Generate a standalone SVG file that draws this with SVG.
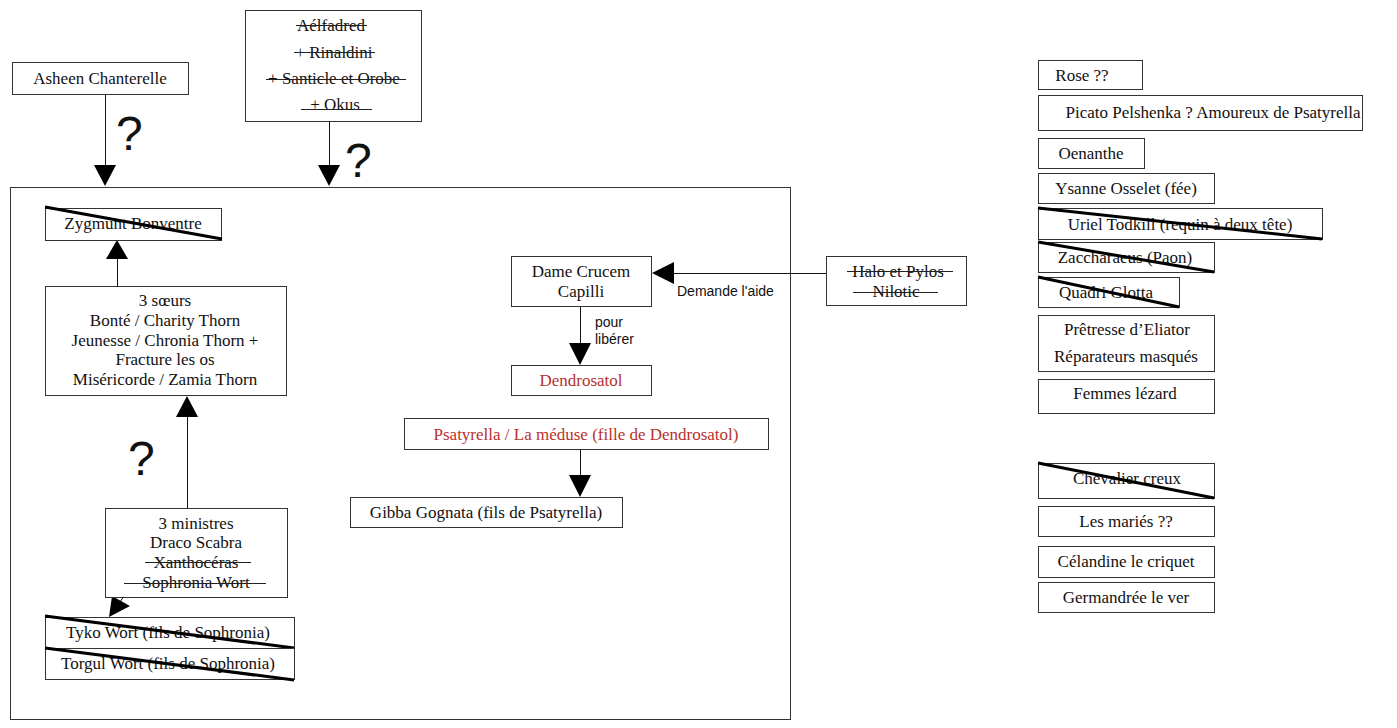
<svg xmlns="http://www.w3.org/2000/svg" width="1397" height="728" viewBox="0 0 1397 728">
<defs>
<style>
.b{fill:#fff;stroke:#333;stroke-width:1}
.t{font-family:"Liberation Serif",serif;font-size:17px;fill:#111;text-anchor:middle;dominant-baseline:central}
.r{fill:#b8312b}
.s{font-family:"Liberation Sans",sans-serif;font-size:14px;fill:#111}
.q{font-family:"Liberation Sans",sans-serif;font-size:48px;fill:#111}
.c{stroke:#111;stroke-width:1;fill:none}
.x{stroke:#000;stroke-width:3}
.k{stroke:#222;stroke-width:1}
.a{fill:#000}
</style>
</defs>
<rect width="1397" height="728" fill="#fff"/>
<rect id="container" class="b" x="10.5" y="187.5" width="780" height="532"/>

<g id="connectors">
<line class="c" x1="105.5" y1="95" x2="105.5" y2="166"/>
<polygon class="a" points="94,165 116,165 105,186"/>
<line class="c" x1="329.5" y1="122" x2="329.5" y2="166"/>
<polygon class="a" points="318,165 340,165 329,186"/>
<line class="c" x1="117.5" y1="286" x2="117.5" y2="258"/>
<polygon class="a" points="106,259 128,259 117,240"/>
<line class="c" x1="187.5" y1="509" x2="187.5" y2="416"/>
<polygon class="a" points="176,417 198,417 187,396"/>
<line class="c" x1="132" y1="584" x2="120" y2="602"/>
<polygon class="a" points="109,617 112,596 130,606"/>
<line class="c" x1="826" y1="273.5" x2="673" y2="273.5"/>
<polygon class="a" points="652,273 674,262 674,284"/>
<line class="c" x1="580.5" y1="307" x2="580.5" y2="344"/>
<polygon class="a" points="569,343 591,343 580,365"/>
<line class="c" x1="580.5" y1="449" x2="580.5" y2="476"/>
<polygon class="a" points="569,475 591,475 580,497"/>
<text class="q" x="116" y="150">?</text>
<text class="q" x="345" y="177">?</text>
<text class="q" x="128" y="475">?</text>
<text class="s" x="677" y="296">Demande l'aide</text>
<text class="s" x="595" y="327">pour</text>
<text class="s" x="595" y="344">libérer</text>
</g>

<g id="asheen"><rect class="b" x="12.5" y="62.5" width="176" height="32"/><text class="t" x="100" y="78">Asheen Chanterelle</text></g>

<g id="aelfadred"><rect class="b" x="245.5" y="10.5" width="176" height="111"/>
<text class="t" x="331" y="25">Aélfadred</text><line class="k" x1="296" y1="25.5" x2="367" y2="25.5"/>
<text class="t" x="334" y="52">+ Rinaldini</text><line class="k" x1="294" y1="52.5" x2="375" y2="52.5"/>
<text class="t" x="334" y="78">+ Santicle et Orobe</text><line class="k" x1="266" y1="79.5" x2="406" y2="79.5"/>
<text class="t" x="335" y="104">+ Okus</text><line class="k" x1="301" y1="109.5" x2="372" y2="109.5"/>
</g>

<g id="zygmunt"><rect class="b" x="45.5" y="208.5" width="176" height="32"/><text class="t" x="133" y="223">Zygmunt Bonventre</text><line class="x" x1="45" y1="207" x2="222" y2="239"/></g>

<g id="soeurs"><rect class="b" x="45.5" y="286.5" width="241" height="109"/>
<text class="t" x="165" y="300">3 sœurs</text>
<text class="t" x="165" y="320">Bonté / Charity Thorn</text>
<text class="t" x="165" y="340">Jeunesse / Chronia Thorn +</text>
<text class="t" x="165" y="359">Fracture les os</text>
<text class="t" x="165" y="379">Miséricorde / Zamia Thorn</text>
</g>

<g id="ministres"><rect class="b" x="105.5" y="508.5" width="182" height="89"/>
<text class="t" x="196" y="523">3 ministres</text>
<text class="t" x="196" y="542">Draco Scabra</text>
<text class="t" x="196" y="562">Xanthocéras</text><line class="k" x1="145" y1="562.5" x2="251" y2="562.5"/>
<text class="t" x="196" y="582">Sophronia Wort</text><line class="k" x1="124" y1="583.5" x2="266" y2="583.5"/>
</g>

<g id="tyko"><rect class="b" x="45.5" y="617.5" width="249" height="31"/><text class="t" x="168" y="632">Tyko Wort (fils de Sophronia)</text><line class="x" x1="45" y1="616" x2="294" y2="648"/></g>
<g id="torgul"><rect class="b" x="45.5" y="648.5" width="249" height="31"/><text class="t" x="168" y="663">Torgul Wort (fils de Sophronia)</text><line class="x" x1="45" y1="648" x2="294" y2="680"/></g>

<g id="dame"><rect class="b" x="511.5" y="256.5" width="140" height="50"/><text class="t" x="581" y="271">Dame Crucem</text><text class="t" x="581" y="291">Capilli</text></g>

<g id="halo"><rect class="b" x="826.5" y="256.5" width="140" height="49"/>
<text class="t" x="898" y="271">Halo et Pylos</text><line class="k" x1="847" y1="271.5" x2="953" y2="271.5"/>
<text class="t" x="896" y="291">Nilotic</text><line class="k" x1="853" y1="292.5" x2="938" y2="292.5"/>
</g>

<g id="dendrosatol"><rect class="b" x="511.5" y="365.5" width="140" height="30"/><text class="t r" x="581" y="380">Dendrosatol</text></g>
<g id="psatyrella"><rect class="b" x="404.5" y="418.5" width="364" height="31"/><text class="t r" x="586" y="434">Psatyrella / La méduse (fille de Dendrosatol)</text></g>
<g id="gibba"><rect class="b" x="350.5" y="497.5" width="272" height="30"/><text class="t" x="486" y="512">Gibba Gognata (fils de Psatyrella)</text></g>

<g id="rose"><rect class="b" x="1038.5" y="60.5" width="104" height="29"/><text class="t" x="1082" y="75">Rose ??</text></g>
<g id="picato"><rect class="b" x="1038.5" y="95.5" width="324" height="35"/><text class="t" x="1213" y="112">Picato Pelshenka ? Amoureux de Psatyrella</text></g>
<g id="oenanthe"><rect class="b" x="1038.5" y="138.5" width="106" height="30"/><text class="t" x="1091" y="153">Oenanthe</text></g>
<g id="ysanne"><rect class="b" x="1038.5" y="173.5" width="176" height="30"/><text class="t" x="1126" y="188">Ysanne Osselet (fée)</text></g>
<g id="uriel"><rect class="b" x="1038.5" y="208.5" width="284" height="31"/><text class="t" x="1180" y="224">Uriel Todkill (requin à deux tête)</text><line class="x" x1="1038" y1="208" x2="1322" y2="239"/></g>
<g id="zaccharaeus"><rect class="b" x="1038.5" y="242.5" width="176" height="30"/><text class="t" x="1125" y="257">Zaccharaeus (Paon)</text><line class="x" x1="1038" y1="242" x2="1214" y2="272"/></g>
<g id="quadri"><rect class="b" x="1038.5" y="277.5" width="141" height="30"/><text class="t" x="1106" y="292">Quadri Glotta</text><line class="x" x1="1038" y1="277" x2="1179" y2="307"/></g>
<g id="pretresse"><rect class="b" x="1038.5" y="315.5" width="176" height="56"/><text class="t" x="1127" y="329">Prêtresse d’Eliator</text><text class="t" x="1126" y="356">Réparateurs masqués</text></g>
<g id="femmes"><rect class="b" x="1038.5" y="379.5" width="176" height="34"/><text class="t" x="1125" y="393">Femmes lézard</text></g>
<g id="chevalier"><rect class="b" x="1038.5" y="463.5" width="176" height="35"/><text class="t" x="1127" y="478">Chevalier creux</text><line class="x" x1="1038" y1="463" x2="1214" y2="498"/></g>
<g id="maries"><rect class="b" x="1038.5" y="506.5" width="176" height="30"/><text class="t" x="1126" y="521">Les mariés ??</text></g>
<g id="celandine"><rect class="b" x="1038.5" y="546.5" width="176" height="31"/><text class="t" x="1126" y="561">Célandine le criquet</text></g>
<g id="germandree"><rect class="b" x="1038.5" y="582.5" width="176" height="30"/><text class="t" x="1126" y="597">Germandrée le ver</text></g>
</svg>
